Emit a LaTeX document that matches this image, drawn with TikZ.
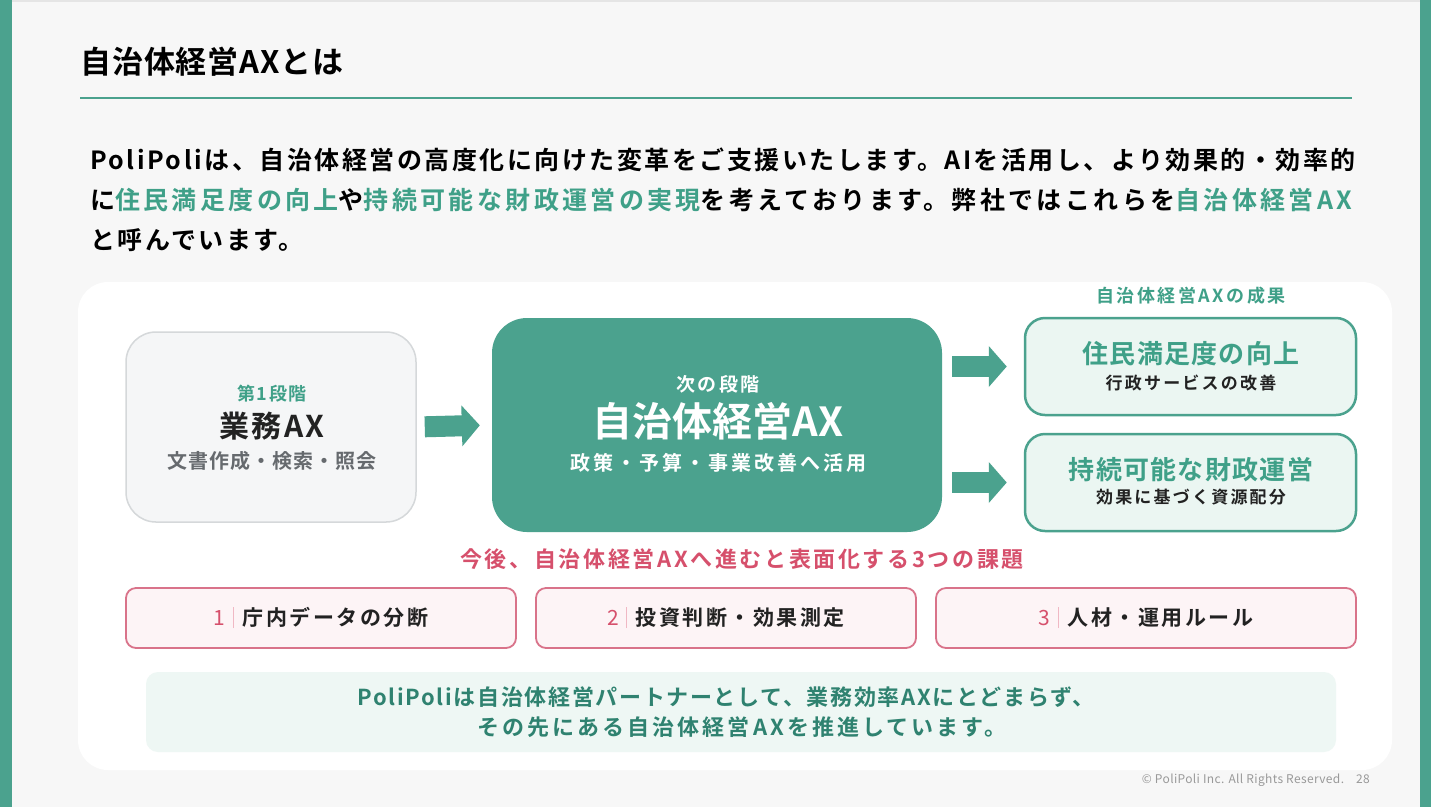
\documentclass[tikz,border=0pt]{standalone}
\usepackage{fontspec}
\setmainfont{Noto Sans CJK JP}[BoldFont={Noto Sans CJK JP Bold}]
\usetikzlibrary{arrows.meta}
\definecolor{bgc}{HTML}{F7F7F7}
\definecolor{grn}{HTML}{4BA28E}
\definecolor{grntxt}{HTML}{3FA088}
\definecolor{dgrn}{HTML}{2F8270}
\definecolor{lgrn}{HTML}{EBF6F2}
\definecolor{llgrn}{HTML}{EEF7F4}
\definecolor{pnk}{HTML}{D6506C}
\definecolor{pnkbd}{HTML}{D9738A}
\definecolor{pnkfill}{HTML}{FDF4F6}
\definecolor{pnkbar}{HTML}{F0B8C4}
\definecolor{gtxt}{HTML}{666A6E}
\definecolor{dtxt}{HTML}{222222}
\definecolor{lbox}{HTML}{F5F6F7}
\definecolor{lboxbd}{HTML}{D5D8DA}
\newcommand\fsz[2]{\fontsize{#1}{#1}\selectfont\addfontfeatures{LetterSpace=#2}}
\begin{document}
\begin{tikzpicture}[x=1pt,y=-1pt,
  txt/.style={inner sep=0pt, anchor=base},
  fat/.style={draw=grn, line width=21pt, -{Triangle[length=18pt,width=40pt]}},
  resbox/.style={draw=grn, line width=2.5pt, fill=lgrn, rounded corners=20pt, minimum width=331pt, minimum height=97pt, inner sep=0pt},
  issuebox/.style={draw=pnkbd, line width=1.8pt, fill=pnkfill, rounded corners=10pt, minimum height=60pt, inner sep=0pt}
]
\useasboundingbox (0,0) rectangle (1431,807);
\fill[bgc] (0,0) rectangle (1431,807);
\fill[black!10] (0,0) rectangle (1431,2);
\fill[grn] (0,0) rectangle (12,807);
\fill[grn] (1420,0) rectangle (1431,807);

% title
\node[txt, anchor=base west] (title) at (80,73) {\fsz{31}{3}\bfseries 自治体経営AXとは};
\draw[grn, line width=1.5pt] (80,98) -- (1352,98);

% paragraph
\node[txt, anchor=base west] (p1) at (90,169) {\fsz{25}{10}\bfseries PoliPoliは、自治体経営の高度化に向けた変革をご支援いたします。AIを活用し、より効果的・効率的};
\node[txt, anchor=base west] (p2) at (90,209) {\fsz{25}{13.5}\bfseries に\textcolor{grntxt}{住民満足度の向上}や\textcolor{grntxt}{持続可能な財政運営の実現}を考えております。弊社ではこれらを\textcolor{grntxt}{自治体経営AX}};
\node[txt, anchor=base west] (p3) at (90,249) {\fsz{25}{10}\bfseries と呼んでいます。};

% panel
\fill[white, rounded corners=30pt] (78,282) rectangle (1392,770);

% left box
\node[draw=lboxbd, line width=1.5pt, fill=lbox, rounded corners=30pt, minimum width=290pt, minimum height=190pt, inner sep=0pt] (lb) at (271,427) {};
\node[txt, text=grntxt] (lb1) at (272,400) {\fsz{18}{8}\bfseries 第1段階};
\node[txt, text=dtxt] (lb2) at (272,437) {\fsz{30}{8}\bfseries 業務AX};
\node[txt, text=gtxt] (lb3) at (272,468) {\fsz{20}{5}\bfseries 文書作成・検索・照会};

% center box
\node[fill=grn, rounded corners=35pt, minimum width=450pt, minimum height=214pt, inner sep=0pt] (cb) at (717,425) {};
\node[txt, text=white] (cb1) at (718,391) {\fsz{19}{12}\bfseries 次の段階};
\node[txt, text=white] (cb2) at (718,436) {\fsz{40}{0}\bfseries 自治体経営AX};
\node[txt, text=white] (cb3) at (718,470) {\fsz{20}{15}\bfseries 政策・予算・事業改善へ活用};

% result boxes
\node[txt, text=grntxt] (rt) at (1191,302) {\fsz{18}{14}\bfseries 自治体経営AXの成果};
\node[resbox] (r1) at (1190.5,366.5) {};
\node[txt, text=grntxt] (r1a) at (1191,363) {\fsz{26}{5}\bfseries 住民満足度の向上};
\node[txt, text=dtxt] (r1b) at (1191,389) {\fsz{17}{13}\bfseries 行政サービスの改善};
\node[resbox] (r2) at (1190.5,482.5) {};
\node[txt, text=grntxt] (r2a) at (1191,479) {\fsz{26}{5}\bfseries 持続可能な財政運営};
\node[txt, text=dtxt] (r2b) at (1191,503) {\fsz{17}{13}\bfseries 効果に基づく資源配分};

% arrows
\draw[fat, shorten <=8pt, shorten >=12pt] (lb.east) -- (cb.west);
\draw[fat, shorten <=10pt, shorten >=17pt] (cb.east |- r1.west) -- (r1.west);
\draw[fat, shorten <=10pt, shorten >=17pt] (cb.east |- r2.west) -- (r2.west);

% issues
\node[txt, text=pnk] (it) at (742,567) {\fsz{22}{12}\bfseries 今後、自治体経営AXへ進むと表面化する3つの課題};
\node[issuebox, minimum width=390pt] (i1) at (321,618) {};
\node[issuebox, minimum width=380pt] (i2) at (726,618) {};
\node[issuebox, minimum width=420pt] (i3) at (1146,618) {};
\node[txt, text=dtxt] (i1t) at (321,625) {\fsz{21}{12}\bfseries\textcolor{pnk}{\mdseries 1}\hspace{7pt}\textcolor{pnkbar}{\rule[-3pt]{1pt}{21pt}}\hspace{9pt}庁内データの分断};
\node[txt, text=dtxt] (i2t) at (726,625) {\fsz{21}{12}\bfseries\textcolor{pnk}{\mdseries 2}\hspace{7pt}\textcolor{pnkbar}{\rule[-3pt]{1pt}{21pt}}\hspace{9pt}投資判断・効果測定};
\node[txt, text=dtxt] (i3t) at (1146,625) {\fsz{21}{12}\bfseries\textcolor{pnk}{\mdseries 3}\hspace{7pt}\textcolor{pnkbar}{\rule[-3pt]{1pt}{21pt}}\hspace{9pt}人材・運用ルール};

% bottom message
\node[fill=llgrn, rounded corners=12pt, minimum width=1190pt, minimum height=80pt, inner sep=0pt] (bm) at (741,712) {};
\node[txt, text=dgrn] (bm1) at (726,705) {\fsz{22}{7.5}\bfseries PoliPoliは自治体経営パートナーとして、業務効率AXにとどまらず、};
\node[txt, text=dgrn] (bm2) at (742,735) {\fsz{22}{14}\bfseries その先にある自治体経営AXを推進しています。};

% footer
\node[txt, anchor=base east, text=black!40] (ft) at (1370,783) {\fsz{12}{3}© PoliPoli Inc. All Rights Reserved.\hspace{12pt}28};
\end{tikzpicture}
\end{document}
